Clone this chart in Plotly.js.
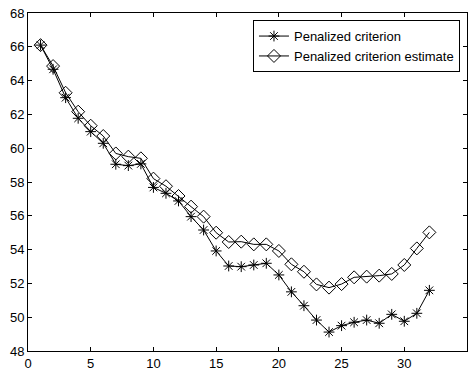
<!DOCTYPE html>
<html><head><meta charset="utf-8">
<script src="https://cdn.plot.ly/plotly-3.0.1.min.js"></script>
<style>html,body{margin:0;padding:0;background:#fff}#chart{width:474px;height:373px}</style>
</head><body><div id="chart"></div>
<script>
const xs = [1,2,3,4,5,6,7,8,9,10,11,12,13,14,15,16,17,18,19,20,21,22,23,24,25,26,27,28,29,30,31,32];
const criterion = [66.1,64.67,62.99,61.77,60.98,60.29,59.05,58.97,59.07,57.68,57.33,56.88,55.95,55.16,53.92,53.03,52.99,53.09,53.19,52.5,51.5,50.68,49.83,49.12,49.5,49.7,49.83,49.64,50.17,49.76,50.23,51.59];
const estimate = [66.1,64.86,63.28,62.16,61.33,60.72,59.69,59.5,59.4,58.2,57.75,57.17,56.54,55.95,55.0,54.45,54.47,54.31,54.31,53.92,53.13,52.69,51.94,51.75,51.96,52.36,52.4,52.46,52.56,53.09,54.07,55.02];
const names = ['Penalized criterion','Penalized criterion estimate'];

const traces = [
  {x: xs, y: criterion, name: names[0], mode: 'lines+markers', type: 'scatter',
   line: {color: '#000', width: 1},
   marker: {symbol: 'asterisk-open', size: 9, color: '#000', line: {color: '#000', width: 1}}},
  {x: xs, y: estimate, name: names[1], mode: 'lines+markers', type: 'scatter',
   line: {color: '#000', width: 1},
   marker: {symbol: 'diamond-open', size: 10, color: '#000', line: {color: '#000', width: 1}}}
];

const fontFam = 'Liberation Sans, Arial, Helvetica, sans-serif';
const axisCommon = {
  showgrid: false, zeroline: false, showline: true, mirror: 'ticks',
  linecolor: '#000', linewidth: 1, ticks: 'inside', ticklen: 4, tickcolor: '#000',
  tickfont: {family: fontFam, size: 13, color: '#000'}
};

const layout = {
  width: 474, height: 373,
  margin: {l: 28, r: 7, t: 13, b: 22},
  paper_bgcolor: '#fff', plot_bgcolor: '#fff',
  showlegend: true,
  xaxis: Object.assign({}, axisCommon, {range: [0, 35], tick0: 0, dtick: 5}),
  yaxis: Object.assign({}, axisCommon, {range: [48, 68], tick0: 48, dtick: 2}),
  legend: {x: 0.984, y: 0.979, xanchor: 'right', yanchor: 'top',
    bgcolor: '#fff', bordercolor: '#000', borderwidth: 1,
    font: {family: fontFam, size: 13, color: '#000'},
    tracegroupgap: 0, itemwidth: 30}
};

Plotly.newPlot('chart', traces, layout, {staticPlot: true});
</script></body></html>
